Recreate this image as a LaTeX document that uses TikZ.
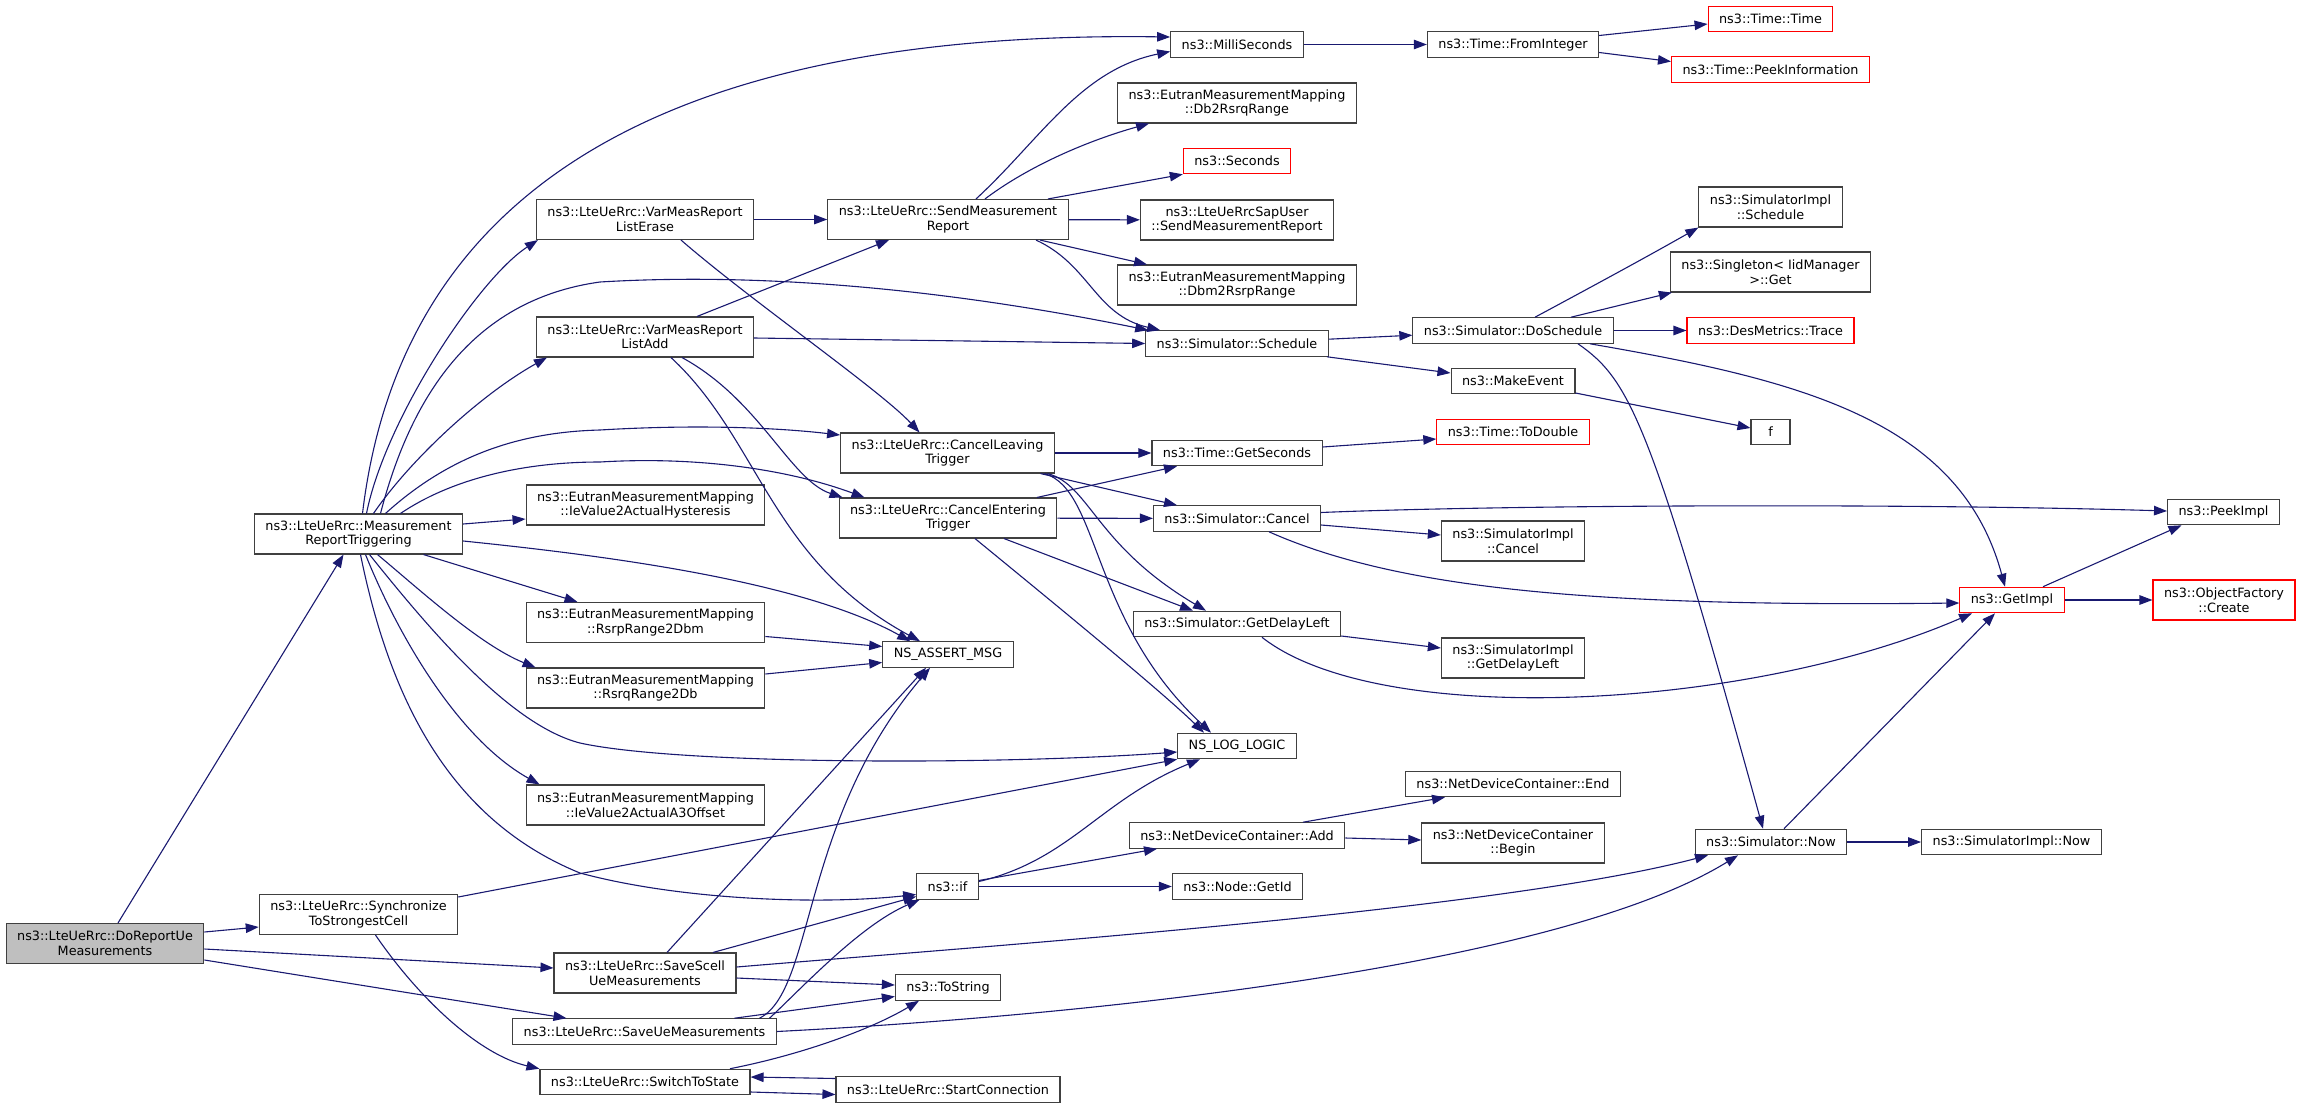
\documentclass[tikz,border=0pt]{standalone}
\usepackage{fontspec}
\setmainfont{DejaVu Sans}
\usepackage{tikz}
\usetikzlibrary{arrows.meta}
\definecolor{edgeblue}{HTML}{191970}
\definecolor{boxgrey}{HTML}{404040}
\definecolor{mainfill}{HTML}{BFBFBF}

\begin{document}
\begin{tikzpicture}[x=1pt,y=-1pt,
  fn/.style={draw=boxgrey,line width=1.1pt,fill=white,inner xsep=11pt,inner ysep=2pt,minimum height=25.5pt,align=center,font=\fontsize{12.8}{14.6}\selectfont},
  fnred/.style={fn,draw=red},
  fnmain/.style={fn,fill=mainfill},
  twoline/.style={minimum height=40pt},
  edgecall/.style={draw=edgeblue,line width=1.1pt,-{Triangle[length=13pt,width=9.5pt]}}]
\useasboundingbox (0,0) rectangle (2301,1108);

\node[fnmain,twoline] (dr) at (105,943.5) {ns3::LteUeRrc::DoReportUe\\Measurements};
\node[fn,twoline] (mrt) at (358.5,534) {ns3::LteUeRrc::Measurement\\ReportTriggering};
\node[fn,twoline] (sync) at (358.5,914.5) {ns3::LteUeRrc::Synchronize\\ToStrongestCell};
\node[fn,twoline] (erase) at (645,219.5) {ns3::LteUeRrc::VarMeasReport\\ListErase};
\node[fn,twoline] (add) at (645,337) {ns3::LteUeRrc::VarMeasReport\\ListAdd};
\node[fn,twoline] (hyst) at (645.5,505) {ns3::EutranMeasurementMapping\\::IeValue2ActualHysteresis};
\node[fn,twoline] (rsrp2dbm) at (645.5,622.5) {ns3::EutranMeasurementMapping\\::RsrpRange2Dbm};
\node[fn,twoline] (rsrq2db) at (645.5,688) {ns3::EutranMeasurementMapping\\::RsrqRange2Db};
\node[fn,twoline] (a3off) at (645.5,805) {ns3::EutranMeasurementMapping\\::IeValue2ActualA3Offset};
\node[fn,twoline] (savescell) at (645,973) {ns3::LteUeRrc::SaveScell\\UeMeasurements};
\node[fn] (saveue) at (644.5,1031.5) {ns3::LteUeRrc::SaveUeMeasurements};
\node[fn] (tostate) at (645,1082) {ns3::LteUeRrc::SwitchToState};
\node[fn,twoline] (smr) at (948,219.5) {ns3::LteUeRrc::SendMeasurement\\Report};
\node[fn,twoline] (cl) at (947.5,453) {ns3::LteUeRrc::CancelLeaving\\Trigger};
\node[fn,twoline] (ce) at (948,518) {ns3::LteUeRrc::CancelEntering\\Trigger};
\node[fn] (assert) at (948,654.5) {NS\_ASSERT\_MSG};
\node[fn] (ifn) at (947.5,886.5) {ns3::if};
\node[fn] (tostr) at (948,987.5) {ns3::ToString};
\node[fn] (startc) at (948,1089.5) {ns3::LteUeRrc::StartConnection};
\node[fn] (milli) at (1237,44.5) {ns3::MilliSeconds};
\node[fn,twoline] (db2rsrq) at (1237,103) {ns3::EutranMeasurementMapping\\::Db2RsrqRange};
\node[fnred] (seconds) at (1237,161) {ns3::Seconds};
\node[fn,twoline] (sapuser) at (1237,220) {ns3::LteUeRrcSapUser\\::SendMeasurementReport};
\node[fn,twoline] (dbm2rsrp) at (1237,285) {ns3::EutranMeasurementMapping\\::Dbm2RsrpRange};
\node[fn] (sched) at (1237,343.5) {ns3::Simulator::Schedule};
\node[fn] (getsec) at (1237,453) {ns3::Time::GetSeconds};
\node[fn] (cancel) at (1237,518.5) {ns3::Simulator::Cancel};
\node[fn] (delay) at (1237,624) {ns3::Simulator::GetDelayLeft};
\node[fn] (nslog) at (1237,746) {NS\_LOG\_LOGIC};
\node[fn] (ndcadd) at (1237,835.5) {ns3::NetDeviceContainer::Add};
\node[fn] (getid) at (1237.5,886.5) {ns3::Node::GetId};
\node[fn] (fromint) at (1513,44.5) {ns3::Time::FromInteger};
\node[fn] (dosched) at (1513,330.5) {ns3::Simulator::DoSchedule};
\node[fn] (mkev) at (1513,381) {ns3::MakeEvent};
\node[fnred] (todouble) at (1513,432) {ns3::Time::ToDouble};
\node[fn,twoline] (implcancel) at (1513,541) {ns3::SimulatorImpl\\::Cancel};
\node[fn,twoline] (impldelay) at (1513,658) {ns3::SimulatorImpl\\::GetDelayLeft};
\node[fn] (ndcend) at (1513,784) {ns3::NetDeviceContainer::End};
\node[fn,twoline] (ndcbegin) at (1513,843) {ns3::NetDeviceContainer\\::Begin};
\node[fnred] (timetime) at (1770.5,19) {ns3::Time::Time};
\node[fnred] (peekinfo) at (1770.5,69.5) {ns3::Time::PeekInformation};
\node[fn,twoline] (implsched) at (1770.5,207) {ns3::SimulatorImpl\\::Schedule};
\node[fn,twoline] (singleton) at (1770.5,272) {ns3::Singleton< IidManager\\ >::Get};
\node[fnred] (trace) at (1770.5,330.5) {ns3::DesMetrics::Trace};
\node[fn,minimum width=39pt] (f) at (1770.5,432) {f};
\node[fn] (now) at (1771,842) {ns3::Simulator::Now};
\node[fnred] (getimpl) at (2012,600) {ns3::GetImpl};
\node[fn] (peekimpl) at (2223.5,512) {ns3::PeekImpl};
\node[fnred,twoline] (ofcreate) at (2224,600) {ns3::ObjectFactory\\::Create};
\node[fn] (implnow) at (2011.5,842) {ns3::SimulatorImpl::Now};

\draw[edgecall] ([xshift=13pt]dr.north) -- ([xshift=-15pt]mrt.south);
\draw[edgecall] ([yshift=11.5pt]dr.east) -- ([yshift=-12.5pt]sync.west);
\draw[edgecall] ([yshift=-5.5pt]dr.east) -- ([yshift=5pt]savescell.west);
\draw[edgecall] ([yshift=-16.5pt]dr.east) -- ([xshift=-78pt]saveue.north);

\draw[edgecall] ([xshift=4pt]mrt.north) .. controls (400,200) and (650,30) .. ([yshift=7.5pt]milli.west);
\draw[edgecall] ([xshift=8pt]mrt.north) .. controls (385,420) and (478,279) .. ([xshift=2pt]erase.south west);
\draw[edgecall] ([xshift=15pt]mrt.north) .. controls (410,460) and (480,395) .. ([xshift=11pt]add.south west);
\draw[edgecall] ([xshift=22pt]mrt.north) .. controls (410,400) and (470,300) .. (600,282) .. controls (800,270) and (1000,300) .. ([xshift=3pt]sched.north west);
\draw[edgecall] ([xshift=27pt]mrt.north) .. controls (450,455) and (520,432) .. (600,430) .. controls (700,424) and (780,428) .. ([yshift=18pt]cl.west);
\draw[edgecall] ([xshift=42pt]mrt.north) .. controls (450,480) and (520,462) .. (600,462) .. controls (700,456) and (790,470) .. ([xshift=26pt]ce.north west);
\draw[edgecall] ([yshift=10pt]mrt.east) -- ([yshift=-14pt]hyst.west);
\draw[edgecall] ([yshift=-7pt]mrt.east) .. controls (600,555) and (800,580) .. ([xshift=28pt]assert.north west);
\draw[edgecall] ([xshift=65pt]mrt.south) -- ([xshift=-68pt]rsrp2dbm.north);
\draw[edgecall] ([xshift=19pt]mrt.south) .. controls (420,590) and (480,645) .. ([xshift=10pt]rsrq2db.north west);
\draw[edgecall] ([xshift=7pt]mrt.south) .. controls (400,640) and (460,740) .. ([xshift=14pt]a3off.north west);
\draw[edgecall] ([xshift=11pt]mrt.south) .. controls (430,630) and (510,725) .. (580,743) .. controls (680,765) and (1000,765) .. ([yshift=-6pt]nslog.west);
\draw[edgecall] ([xshift=2pt]mrt.south) .. controls (390,700) and (450,820) .. (580,873) .. controls (680,900) and (820,905) .. ([yshift=-8pt]ifn.west);

\draw[edgecall] (erase) -- (smr);
\draw[edgecall] ([xshift=36pt]erase.south) .. controls (750,300) and (880,390) .. ([xshift=-28pt]cl.north);
\draw[edgecall] ([xshift=52pt]add.north) -- ([xshift=-59pt]smr.south);
\draw[edgecall] ([yshift=-1pt]add.east) -- (sched.west);
\draw[edgecall] ([xshift=26pt]add.south) .. controls (760,440) and (770,560) .. ([xshift=-28pt]assert.north);
\draw[edgecall] ([xshift=37pt]add.south) .. controls (760,400) and (790,480) .. ([xshift=4pt]ce.north west);
\draw[edgecall] ([yshift=-14pt]rsrp2dbm.east) -- ([yshift=8pt]assert.west);
\draw[edgecall] ([yshift=14pt]rsrq2db.east) -- ([yshift=-8pt]assert.west);

\draw[edgecall] ([xshift=28pt]smr.north) .. controls (1040,140) and (1080,70) .. ([yshift=-7pt]milli.west);
\draw[edgecall] ([xshift=37pt]smr.north) .. controls (1030,165) and (1090,140) .. ([xshift=32pt]db2rsrq.south west);
\draw[edgecall] ([xshift=100pt]smr.north) -- (seconds.south west);
\draw[edgecall] (smr) -- (sapuser);
\draw[edgecall] ([xshift=92pt]smr.south) -- ([xshift=30pt]dbm2rsrp.north west);
\draw[edgecall] ([xshift=88pt]smr.south) .. controls (1090,265) and (1095,315) .. ([xshift=15pt]sched.north west);

\draw[edgecall] (cl) -- (getsec);
\draw[edgecall] ([xshift=93pt]cl.south) -- ([xshift=-60pt]cancel.north);
\draw[edgecall] ([xshift=100pt]cl.south) .. controls (1090,485) and (1095,545) .. ([xshift=-31pt]delay.north);
\draw[edgecall] ([xshift=97pt]cl.south) .. controls (1100,490) and (1090,620) .. ([xshift=-26pt]nslog.north);
\draw[edgecall] ([xshift=89pt]ce.north) -- ([xshift=-60pt]getsec.south);
\draw[edgecall] (ce) -- (cancel);
\draw[edgecall] ([xshift=56pt]ce.south) -- ([xshift=-44pt]delay.north);
\draw[edgecall] ([xshift=27pt]ce.south) .. controls (1050,600) and (1160,690) .. ([xshift=-33pt]nslog.north);

\draw[edgecall] (sched) -- (dosched);
\draw[edgecall] ([xshift=90pt]sched.south) -- ([yshift=8pt]mkev.west);
\draw[edgecall] ([xshift=22pt]dosched.north) .. controls (1580,293) and (1645,258) .. (implsched.south west);
\draw[edgecall] ([xshift=58pt]dosched.north) -- ([xshift=2pt]singleton.south west);
\draw[edgecall] (dosched) -- (trace);
\draw[edgecall] ([xshift=77pt]dosched.south) .. controls (1800,380) and (1960,420) .. ([xshift=-7pt]getimpl.north);
\draw[edgecall] ([xshift=65pt]dosched.south) .. controls (1630,380) and (1650,420) .. ([xshift=-8pt]now.north);
\draw[edgecall] ([yshift=-12pt]mkev.east) -- ([yshift=4pt]f.west);
\draw[edgecall] (milli) -- (fromint);
\draw[edgecall] ([yshift=9pt]fromint.east) -- ([yshift=-5pt]timetime.west);
\draw[edgecall] ([yshift=-8pt]fromint.east) -- ([yshift=8pt]peekinfo.west);
\draw[edgecall] ([yshift=6pt]getsec.east) -- ([yshift=-7pt]todouble.west);
\draw[edgecall] ([yshift=6pt]cancel.east) .. controls (1500,505) and (1900,503) .. ([yshift=1pt]peekimpl.west);
\draw[edgecall] ([yshift=-6.5pt]cancel.east) -- ([yshift=6pt]implcancel.west);
\draw[edgecall] ([xshift=32pt]cancel.south) .. controls (1400,590) and (1600,607) .. ([yshift=-3pt]getimpl.west);
\draw[edgecall] ([yshift=-12pt]delay.east) -- ([yshift=10pt]impldelay.west);
\draw[edgecall] ([xshift=25pt]delay.south) .. controls (1380,730) and (1750,710) .. ([xshift=-40pt]getimpl.south);
\draw[edgecall] ([xshift=31pt]getimpl.north) -- ([xshift=-42pt]peekimpl.south);
\draw[edgecall] (getimpl) -- (ofcreate);
\draw[edgecall] (now) -- (implnow);
\draw[edgecall] ([xshift=13pt]now.north) -- ([xshift=-17pt]getimpl.south);

\draw[edgecall] ([yshift=17.5pt]sync.east) -- (nslog.south west);
\draw[edgecall] ([xshift=17pt]sync.south) .. controls (420,1000) and (480,1055) .. (tostate.north west);
\draw[edgecall] ([yshift=5pt]ifn.east) .. controls (1070,860) and (1100,800) .. ([xshift=-37pt]nslog.south);
\draw[edgecall] ([yshift=6pt]ifn.east) -- ([xshift=-80pt]ndcadd.south);
\draw[edgecall] (ifn) -- (getid);
\draw[edgecall] ([xshift=66pt]ndcadd.north) -- ([xshift=-68pt]ndcend.south);
\draw[edgecall] ([yshift=-2.5pt]ndcadd.east) -- ([yshift=3pt]ndcbegin.west);

\draw[edgecall] ([xshift=22pt]savescell.north) -- ([xshift=-22pt]assert.south);
\draw[edgecall] ([xshift=68pt]savescell.north) -- ([yshift=-10pt]ifn.west);
\draw[edgecall] ([yshift=-5pt]savescell.east) -- ([yshift=2.5pt]tostr.west);
\draw[edgecall] ([yshift=6pt]savescell.east) .. controls (1000,945) and (1500,910) .. ([xshift=-63pt]now.south);
\draw[edgecall] ([xshift=115pt]saveue.north) .. controls (815,990) and (800,820) .. ([xshift=-18pt]assert.south);
\draw[edgecall] ([xshift=125pt]saveue.north) .. controls (800,990) and (860,925) .. ([xshift=-28pt]ifn.south);
\draw[edgecall] ([xshift=90pt]saveue.north) -- ([yshift=-9pt]tostr.west);
\draw[edgecall] (saveue.east) .. controls (1100,1015) and (1560,965) .. ([xshift=-33pt]now.south);
\draw[edgecall] ([xshift=85pt]tostate.north) .. controls (800,1055) and (870,1030) .. ([xshift=-29pt]tostr.south);
\draw[edgecall] ([yshift=-10pt]tostate.east) -- ([yshift=-5pt]startc.west);
\draw[edgecall] ([yshift=11pt]startc.west) -- ([yshift=5pt]tostate.east);
\end{tikzpicture}
\end{document}
